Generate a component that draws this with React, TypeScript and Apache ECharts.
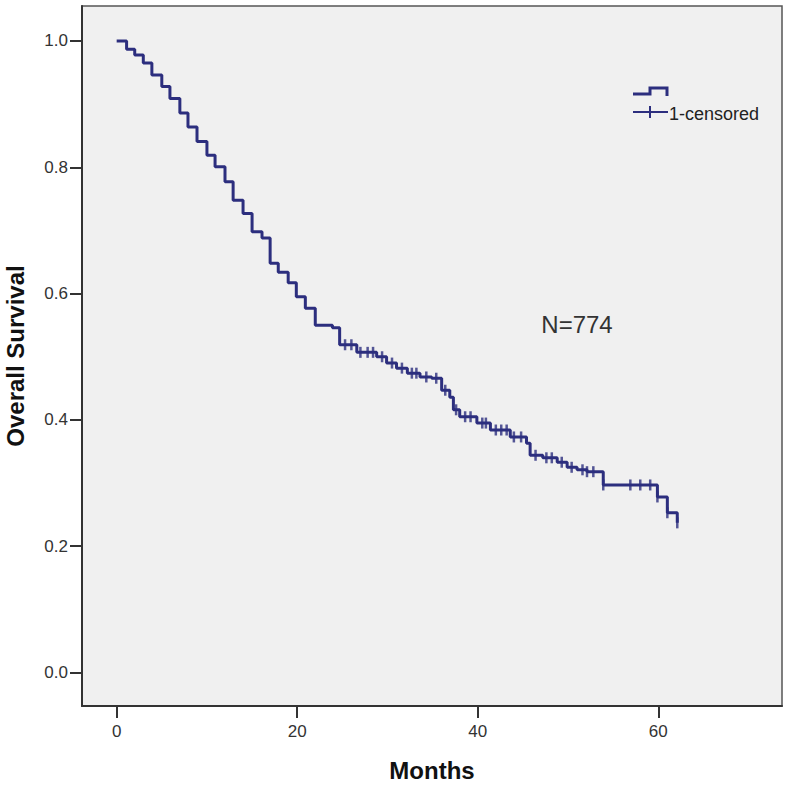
import React, { useEffect, useRef } from "react";
import * as echarts from "echarts";

// Kaplan-Meier step points: time (months) and survival after each drop
const stepTimes = [0, 1.1, 2.0, 2.95, 3.9, 5.0, 5.9, 7.0, 7.9, 8.9, 10.0, 10.9, 12.0, 12.9, 14.0, 15.0, 16.1, 17.0, 17.9, 19.0, 19.9, 20.9, 22.0, 23.9, 24.7, 26.6, 28.8, 29.9, 31.0, 32.2, 33.6, 34.9, 36.0, 36.9, 37.3, 38.0, 39.9, 41.4, 43.6, 45.4, 45.8, 47.2, 48.8, 49.9, 51.0, 52.1, 53.9, 59.9, 61.0, 62.1];
const stepSurvival = [1.0, 0.987, 0.978, 0.965, 0.946, 0.928, 0.909, 0.886, 0.864, 0.841, 0.819, 0.801, 0.777, 0.748, 0.727, 0.698, 0.688, 0.648, 0.634, 0.617, 0.595, 0.577, 0.55, 0.546, 0.519, 0.507, 0.5, 0.49, 0.482, 0.474, 0.468, 0.466, 0.447, 0.436, 0.416, 0.405, 0.395, 0.384, 0.373, 0.363, 0.344, 0.34, 0.333, 0.325, 0.321, 0.318, 0.297, 0.278, 0.253, 0.237];

// Censoring times (months)
const censorTimes = [25.3, 26.0, 27.0, 27.8, 28.4, 29.4, 30.5, 31.6, 32.7, 33.2, 34.3, 35.4, 36.4, 37.6, 38.6, 39.2, 40.5, 40.9, 42.0, 42.6, 43.2, 44.0, 44.8, 46.4, 47.6, 48.2, 49.3, 50.4, 51.6, 52.1, 52.8, 53.9, 56.9, 58.0, 59.1, 59.9, 61.0, 62.1];

const xTicks = [0, 20, 40, 60];
const yTicks = [0, 0.2, 0.4, 0.6, 0.8, 1.0];

const xTitle = "Months";
const yTitle = "Overall Survival";
const annotation = "N=774";
const legendLabel = "1-censored";

const LINE = "#2c2e7e";
const FONT = "'Liberation Sans', Arial, sans-serif";

function survivalAt(t: number): number {
  let s = stepSurvival[0];
  for (let i = 0; i < stepTimes.length; i++) {
    if (stepTimes[i] <= t + 1e-9) s = stepSurvival[i];
  }
  return s;
}

export default function App() {
  const ref = useRef<HTMLDivElement>(null);
  useEffect(() => {
    if (!ref.current) return;
    const chart = echarts.init(ref.current, null, { renderer: "svg" });
    const curve = stepTimes.map((t, i) => [t, stepSurvival[i]]);
    const censors = censorTimes.map((t) => [t, survivalAt(t)]);
    chart.setOption({
      animation: false,
      backgroundColor: "#ffffff",
      grid: {
        left: 82,
        top: 6,
        width: 700,
        height: 700,
        show: true,
        outerBoundsMode: "none",
        containLabel: false,
        backgroundColor: "#f0f0f0",
        borderColor: "#555",
        borderWidth: 1.5,
      },
      xAxis: {
        type: "value",
        min: -3.84,
        max: 73.7,
        splitLine: { show: false },
        axisLine: { show: true, onZero: false, lineStyle: { color: "#333", width: 2 } },
        axisTick: { show: true, customValues: xTicks, length: 12, lineStyle: { color: "#333", width: 2 } },
        axisLabel: {
          customValues: xTicks,
          margin: 17,
          fontSize: 17,
          color: "#333",
          fontFamily: FONT,
        },
        name: xTitle,
        nameLocation: "middle",
        nameGap: 52,
        nameTextStyle: { fontSize: 24, fontWeight: "bold", color: "#111", fontFamily: FONT },
      },
      yAxis: {
        type: "value",
        min: -0.053,
        max: 1.0554,
        splitLine: { show: false },
        axisLine: { show: true, onZero: false, lineStyle: { color: "#333", width: 2 } },
        axisTick: { show: true, customValues: yTicks, length: 12, lineStyle: { color: "#333", width: 2 } },
        axisLabel: {
          customValues: yTicks,
          margin: 14,
          fontSize: 17,
          color: "#333",
          fontFamily: FONT,
          formatter: (v: number) => v.toFixed(1),
        },
        name: yTitle,
        nameLocation: "middle",
        nameGap: 55,
        nameRotate: 90,
        nameTextStyle: { fontSize: 24, fontWeight: "bold", color: "#111", fontFamily: FONT },
      },
      series: [
        {
          type: "line",
          step: "end",
          data: curve,
          showSymbol: false,
          lineStyle: { color: LINE, width: 3 },
          z: 3,
        },
        {
          type: "scatter",
          data: censors,
          symbol: "rect",
          symbolSize: [2.5, 11],
          itemStyle: { color: LINE },
          z: 4,
        },
      ],
      graphic: [
        {
          type: "polyline",
          shape: { points: [[633, 94], [650, 94], [650, 88], [667, 88], [667, 96]] },
          style: { stroke: LINE, lineWidth: 3, fill: null },
        },
        {
          type: "line",
          shape: { x1: 633, y1: 112, x2: 668, y2: 112 },
          style: { stroke: LINE, lineWidth: 2 },
        },
        {
          type: "line",
          shape: { x1: 650, y1: 106, x2: 650, y2: 118 },
          style: { stroke: LINE, lineWidth: 2 },
        },
        {
          type: "text",
          x: 669,
          y: 114,
          style: {
            text: legendLabel,
            fontSize: 18,
            fontFamily: FONT,
            fill: "#222",
            verticalAlign: "middle",
            align: "left",
          },
        },
        {
          type: "text",
          x: 577,
          y: 324,
          style: {
            text: annotation,
            fontSize: 24,
            fontFamily: FONT,
            fill: "#333",
            verticalAlign: "middle",
            align: "center",
          },
        },
      ],
    });
    return () => chart.dispose();
  }, []);
  return (
    <div
      ref={ref}
      style={{ position: "fixed", left: 0, top: 0, width: 789, height: 785 }}
    />
  );
}
